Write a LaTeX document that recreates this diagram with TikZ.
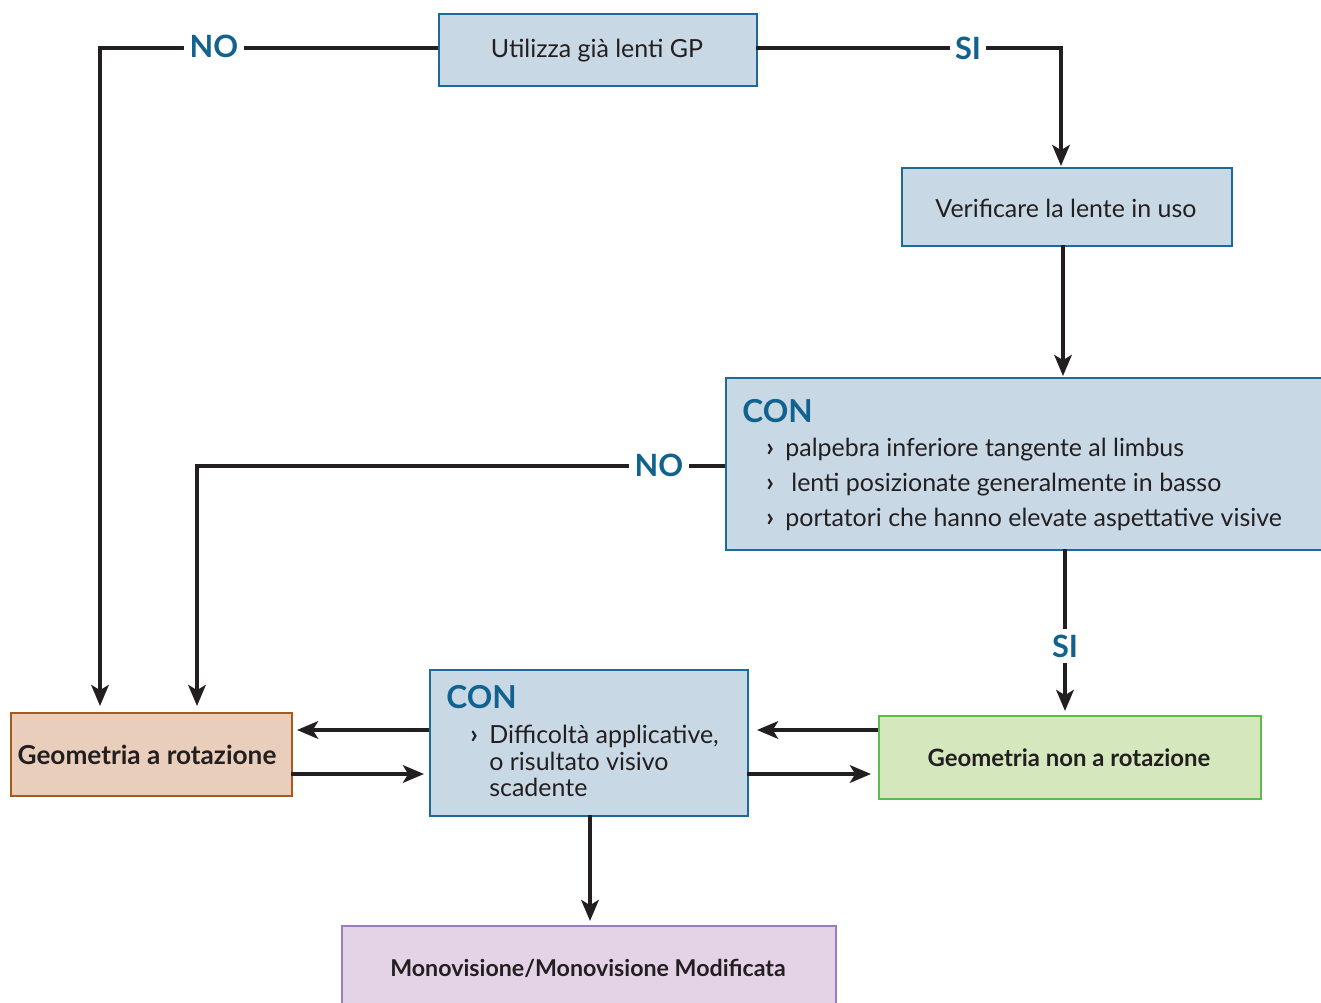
\documentclass[tikz,border=0pt]{standalone}
\usepackage{fontspec}
\setmainfont{Lato}
\usetikzlibrary{arrows.meta}
\definecolor{bluefill}{HTML}{C8D8E5}
\definecolor{blueedge}{HTML}{1B6A97}
\definecolor{labcol}{HTML}{11628F}
\definecolor{brownfill}{HTML}{E8CEBB}
\definecolor{brownedge}{HTML}{A65A1E}
\definecolor{greenfill}{HTML}{D4E7BD}
\definecolor{greenedge}{HTML}{5DBB4B}
\definecolor{purplefill}{HTML}{E4D3E7}
\definecolor{purpleedge}{HTML}{9A7DBF}
\definecolor{ink}{HTML}{231F20}
\def\u{0.02cm}
\tikzset{
  box/.style={rectangle, line width=1.2pt, inner sep=0pt, anchor=north west},
  bluebox/.style={box, fill=bluefill, draw=blueedge},
  brownbox/.style={box, fill=brownfill, draw=brownedge},
  greenbox/.style={box, fill=greenfill, draw=greenedge},
  purplebox/.style={box, fill=purplefill, draw=purpleedge},
  conn/.style={draw=ink, line width=2pt},
  arr/.style={conn, -{Stealth[length=12pt, width=10pt, inset=3pt]}},
  lab/.style={text=labcol, font=\bfseries\fontsize{17.5}{18}\selectfont, fill=white, inner sep=3pt},
  txt/.style={text=ink, font=\fontsize{14.2}{16}\selectfont, inner sep=0pt},
  btxt/.style={text=ink, font=\bfseries\fontsize{14.9}{16}\selectfont, inner sep=0pt},
  contitle/.style={text=labcol, font=\bfseries\fontsize{18}{18}\selectfont, inner sep=0pt, anchor=base west},
  bul/.style={text=ink, font=\fontsize{14.2}{16}\selectfont, inner sep=0pt, anchor=base west},
  bulmark/.style={bul, font=\bfseries\fontsize{15}{16}\selectfont},
}
\begin{document}
\begin{tikzpicture}[x=0.02cm, y=-0.02cm]
\clip (0,0) rectangle (1321,1003);
\fill[white] (0,0) rectangle (1321,1003);
% boxes
\node[bluebox, minimum width=318*\u, minimum height=72*\u] (b1) at (438,13) {};
\node[txt] (t1) at (597,51) {Utilizza già lenti GP};
\node[bluebox, minimum width=330*\u, minimum height=78*\u] (b2) at (901,167) {};
\node[txt] (t2) at (1066,208) {Verificare la lente in uso};
\node[bluebox, minimum width=610*\u, minimum height=172*\u] (b3) at (725,377) {};
\node[contitle] (c3) at (742,422) {CON};
\node[bulmark] (g31) at (766,456) {›};
\node[bul] (l31) at (785,456) {palpebra inferiore tangente al limbus};
\node[bulmark] (g32) at (766,491) {›};
\node[bul] (l32) at (791,491) {lenti posizionate generalmente in basso};
\node[bulmark] (g33) at (766,526) {›};
\node[bul] (l33) at (785,526) {portatori che hanno elevate aspettative visive};
\node[brownbox, minimum width=281*\u, minimum height=83*\u] (b4) at (10,712) {};
\node[btxt] (t4) at (147,755) {Geometria a rotazione};
\node[bluebox, minimum width=318*\u, minimum height=146*\u] (b5) at (429,669) {};
\node[contitle] (c5) at (446,708) {CON};
\node[bulmark] (g51) at (470,743) {›};
\node[bul] (l51) at (489,743) {Difficoltà applicative,};
\node[bul] (l52) at (489,770) {o risultato visivo};
\node[bul] (l53) at (489,796) {scadente};
\node[greenbox, minimum width=382*\u, minimum height=83*\u] (b6) at (878,715) {};
\node[btxt, font=\bfseries\fontsize{13.6}{15}\selectfont] (t6) at (1069,758) {Geometria non a rotazione};
\node[purplebox, minimum width=494*\u, minimum height=100*\u] (b7) at (341,925) {};
\node[btxt, font=\bfseries\fontsize{13.2}{15}\selectfont] (t7) at (588,968) {Monovisione/Monovisione Modificata};
% coordinates
\coordinate (s1) at (438,48);
\coordinate (e1) at (100,706);
\coordinate (s2) at (756,48);
\coordinate (e2) at (1061,166);
\coordinate (s3) at (1063,245);
\coordinate (e3) at (1063,376);
\coordinate (s4) at (725,466);
\coordinate (e4) at (197,706);
\coordinate (s5) at (1065,549);
\coordinate (e5) at (1065,711);
\coordinate (s6) at (429,730);
\coordinate (e6) at (297,730);
\coordinate (s7) at (291,774);
\coordinate (e7) at (424,774);
\coordinate (s8) at (878,730);
\coordinate (e8) at (757,730);
\coordinate (s9) at (747,774);
\coordinate (e9) at (871,774);
\coordinate (s10) at (590,815);
\coordinate (e10) at (590,921);
% connectors
\draw[arr] (s1) -| (e1);
\draw[arr] (s2) -| (e2);
\draw[arr] (s3) -- (e3);
\draw[arr] (s4) -| (e4);
\draw[arr] (s5) -- (e5);
\draw[arr] (s6) -- (e6);
\draw[arr] (s7) -- (e7);
\draw[arr] (s8) -- (e8);
\draw[arr] (s9) -- (e9);
\draw[arr] (s10) -- (e10);
% labels
\node[lab] (n1) at (214,46) {NO};
\node[lab] (y1) at (968,48) {SI};
\node[lab] (n2) at (659,465) {NO};
\node[lab] (y2) at (1065,646) {SI};
\end{tikzpicture}
\end{document}
